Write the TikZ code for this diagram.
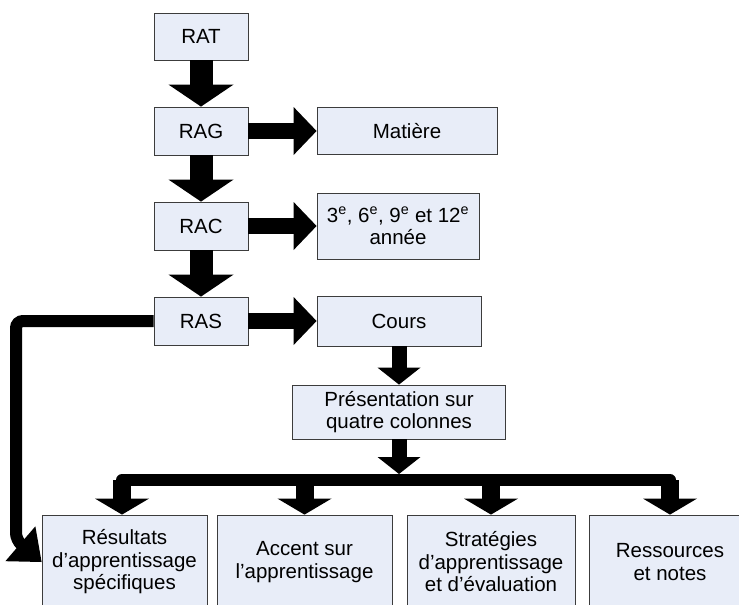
\documentclass[tikz,border=0pt]{standalone}
\usepackage{fontspec}
\setmainfont{Liberation Sans}
\usepackage{tikz}
\usetikzlibrary{arrows.meta}
\definecolor{boxblue}{RGB}{232,237,248}
\definecolor{boxline}{RGB}{60,60,60}

\begin{document}
\begin{tikzpicture}[x=1pt,y=-1pt,
		box/.style={draw=boxline,fill=boxblue,line width=0.8pt,inner sep=0pt,align=center,font=\fontsize{20.5}{22.5}\selectfont},
		bigarrow/.style={line width=23pt,-{Triangle[width=65pt,length=22pt,line width=0pt]}},
		sidearrow/.style={line width=16pt,-{Triangle[width=48pt,length=23pt,line width=0pt]}},
		smallarrow/.style={line width=15pt,-{Triangle[width=43pt,length=17pt,line width=0pt]}},
		branch/.style={line width=18pt,-{Triangle[width=54pt,length=16pt,line width=0pt]}},
		bus/.style={line width=12pt,line cap=round},
		looparrow/.style={line width=12pt,rounded corners=7pt,-{Triangle[width=46pt,length=28pt,line width=0pt]}}]
			\clip (0,0) rectangle (739,605);
			\coordinate (busL) at (122,480);
			\coordinate (busR) at (670,480);
			\coordinate (bend) at (16,540);
			\node[box,minimum width=94pt,minimum height=47pt] (rat) at (201,36.5) {RAT};
			\node[box,minimum width=94pt,minimum height=48pt] (rag) at (201,131) {RAG};
			\node[box,minimum width=94pt,minimum height=48pt] (rac) at (201,226) {RAC};
			\node[box,minimum width=94pt,minimum height=48pt] (ras) at (201,321) {RAS};
			\node[box,minimum width=180pt,minimum height=47pt] (mat) at (407,131) {Matière};
			\node[box,minimum width=162pt,minimum height=66pt] (annee) at (398,226) {3\textsuperscript{e}, 6\textsuperscript{e}, 9\textsuperscript{e} et 12\textsuperscript{e}\\année};
			\node[box,minimum width=164pt,minimum height=50pt] (cours) at (399,321) {Cours};
			\node[box,minimum width=213pt,minimum height=54pt] (pres) at (399,412) {Présentation sur\\quatre colonnes};
			\node[box,minimum width=165pt,minimum height=94pt] (res) at (124.5,562) {Résultats\\d’apprentissage\\spécifiques};
			\node[box,minimum width=175pt,minimum height=94pt] (acc) at (304.5,562) {Accent sur\\l’apprentissage};
			\node[box,minimum width=168pt,minimum height=94pt] (strat) at (491,562) {Stratégies\\d’apprentissage\\et d’évaluation};
			\node[box,minimum width=162pt,minimum height=94pt] (ress) at (670,562) {Ressources\\et notes};
			\draw[bigarrow] (rat) -- (rag);
			\draw[bigarrow] (rag) -- (rac);
			\draw[bigarrow] (rac) -- (ras);
			\draw[sidearrow] (rag) -- (mat);
			\draw[sidearrow] (rac) -- (annee);
			\draw[sidearrow] (ras) -- (cours);
			\draw[smallarrow] (cours) -- (pres);
			\draw[smallarrow,shorten >=6pt] (pres.south) -- (pres.south |- busL);
			\draw[bus] (busL) -- (busR);
			\draw[branch] (busL) -- (busL |- res.north);
			\draw[branch] (acc.north |- busL) -- (acc.north);
			\draw[branch] (strat.north |- busL) -- (strat.north);
			\draw[branch] (busR) -- (busR |- ress.north);
			\draw[looparrow] (ras.west) -| (bend) -- (res.west);
		\end{tikzpicture}
\end{document}
